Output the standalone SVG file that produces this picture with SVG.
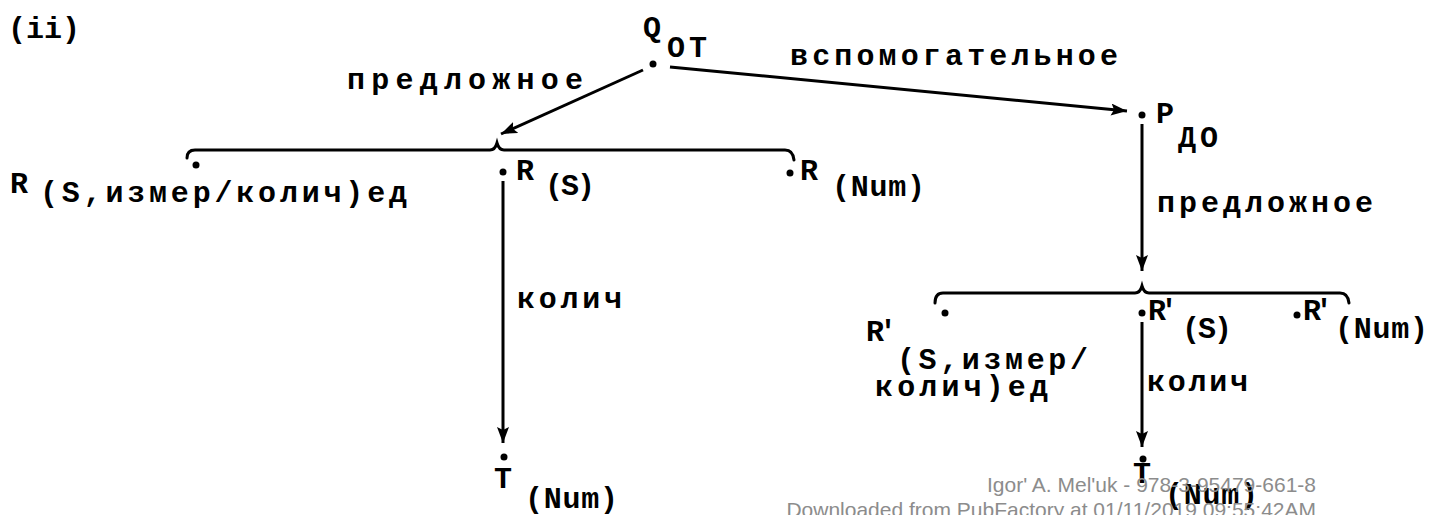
<svg xmlns="http://www.w3.org/2000/svg" width="1436" height="515" viewBox="0 0 1436 515">
<style>
  .t { font-family: "Liberation Mono", "DejaVu Sans Mono", monospace; font-size: 30px; font-weight: bold; fill: #000; }
  .wm { font-family: "Liberation Sans", Arial, sans-serif; font-size: 21px; fill: #8c8c8c; }
  .ln { stroke: #000; stroke-width: 3; fill: none; }
  .br { stroke: #000; stroke-width: 3; fill: none; stroke-linecap: round; }
  .dot { fill: #000; }
</style>
<defs>
  <marker id="arr" markerUnits="userSpaceOnUse" markerWidth="18" markerHeight="14" refX="16" refY="6" orient="auto">
    <path d="M0,0 L16,6 L0,12 L3,6 z" fill="#000"/>
  </marker>
</defs>
<rect width="1436" height="515" fill="#fff"/>

<text class="t" x="8" y="38" textLength="72" lengthAdjust="spacing">(ii)</text>

<g id="connectors">
  <line class="ln" x1="643" y1="70" x2="501" y2="134" marker-end="url(#arr)"/>
  <line class="ln" x1="670" y1="67" x2="1127" y2="111" marker-end="url(#arr)"/>
  <line class="ln" x1="1142" y1="124" x2="1142" y2="271" marker-end="url(#arr)"/>
  <line class="ln" x1="503" y1="181" x2="503" y2="443" marker-end="url(#arr)"/>
  <line class="ln" x1="1142" y1="322" x2="1142" y2="447" marker-end="url(#arr)"/>
  <path class="br" d="M187,158 Q187,150 195,150 L490,150 Q495,150 497,143 Q499,150 504,150 L785,150 Q793,150 794,160"/>
  <path class="br" d="M935,303 Q935,293 943,293 L1135,293 Q1140,293 1142,286 Q1144,293 1149,293 L1340,293 Q1348,293 1349,303"/>
  <text class="t" x="347" y="89" textLength="236" lengthAdjust="spacing">предложное</text>
  <text class="t" x="790" y="65" textLength="328" lengthAdjust="spacing">вспомогательное</text>
  <text class="t" x="1157" y="212" textLength="216" lengthAdjust="spacing">предложное</text>
  <text class="t" x="517" y="308" textLength="105" lengthAdjust="spacing">колич</text>
  <text class="t" x="1147" y="391" textLength="101" lengthAdjust="spacing">колич</text>
</g>

<g id="node-Q">
  <circle class="dot" cx="653" cy="64" r="3.5"/>
  <text class="t" x="643" y="37">Q</text>
  <text class="t" x="667" y="57" textLength="40" lengthAdjust="spacing">OT</text>
</g>

<g id="node-R-ed">
  <circle class="dot" cx="196" cy="165" r="3.5"/>
  <text class="t" x="10" y="193">R</text>
  <text class="t" x="40" y="202" textLength="367" lengthAdjust="spacing">(S,измер/колич)ед</text>
</g>

<g id="node-R-S">
  <circle class="dot" cx="503" cy="172" r="3.5"/>
  <text class="t" x="516" y="180">R</text>
  <text class="t" x="545" y="195" textLength="50" lengthAdjust="spacing">(S)</text>
</g>

<g id="node-R-Num">
  <circle class="dot" cx="790" cy="173" r="3.5"/>
  <text class="t" x="800" y="180">R</text>
  <text class="t" x="832" y="196" textLength="93" lengthAdjust="spacing">(Num)</text>
</g>

<g id="node-T-left">
  <circle class="dot" cx="504" cy="457" r="3.5"/>
  <text class="t" x="494" y="488">T</text>
  <text class="t" x="525" y="508" textLength="93" lengthAdjust="spacing">(Num)</text>
</g>

<g id="node-P">
  <circle class="dot" cx="1142" cy="115" r="3.5"/>
  <text class="t" x="1156" y="123">P</text>
  <text class="t" x="1178" y="147" textLength="40" lengthAdjust="spacing">ДО</text>
</g>

<g id="node-R2-ed">
  <circle class="dot" cx="945" cy="313" r="3.5"/>
  <text class="t" x="866" y="341" textLength="31" lengthAdjust="spacing">R'</text>
  <text class="t" x="897" y="369" textLength="191" lengthAdjust="spacing">(S,измер/</text>
  <text class="t" x="875" y="396" textLength="173" lengthAdjust="spacing">колич)ед</text>
</g>

<g id="node-R2-S">
  <circle class="dot" cx="1142" cy="313" r="3.5"/>
  <text class="t" x="1148" y="320" textLength="30" lengthAdjust="spacing">R'</text>
  <text class="t" x="1182" y="338" textLength="50" lengthAdjust="spacing">(S)</text>
</g>

<g id="node-R2-Num">
  <circle class="dot" cx="1297" cy="315" r="3.5"/>
  <text class="t" x="1303" y="320" textLength="30" lengthAdjust="spacing">R'</text>
  <text class="t" x="1335" y="338" textLength="93" lengthAdjust="spacing">(Num)</text>
</g>

<g id="node-T-right">
  <circle class="dot" cx="1143" cy="459" r="3.5"/>
  <text class="t" x="1133" y="483">T</text>
  <text class="t" x="1165" y="504" textLength="93" lengthAdjust="spacing">(Num)</text>
</g>

<g id="watermark">
  <text class="wm" x="1316" y="492" text-anchor="end">Igor' A. Mel'uk - 978-3-95479-661-8</text>
  <text class="wm" x="1316" y="517" text-anchor="end">Downloaded from PubFactory at 01/11/2019 09:55:42AM</text>
</g>
</svg>
